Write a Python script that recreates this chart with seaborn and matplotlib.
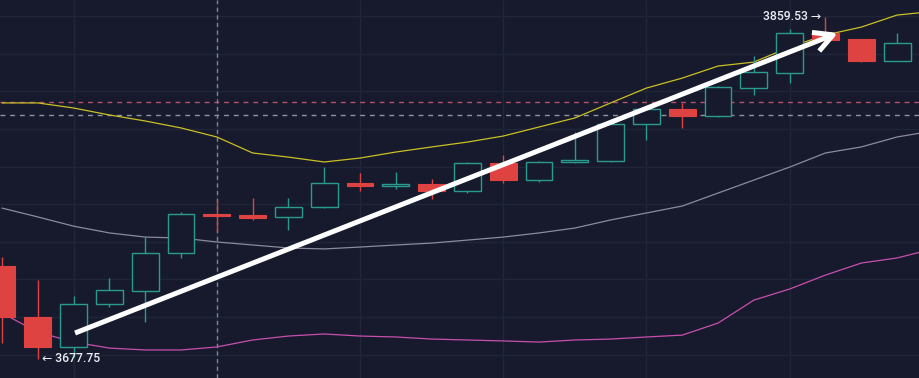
import numpy as np
import pandas as pd
import matplotlib
matplotlib.use("Agg")
import matplotlib.pyplot as plt
import seaborn as sns

# ---- data -------------------------------------------------------------
opens = [3727.1, 3700.0, 3684.1, 3706.9, 3713.8, 3734.0, 3754.8, 3754.2, 3753.2, 3758.5,
         3771.2, 3769.6, 3770.7, 3766.9, 3781.9, 3772.8, 3782.4, 3782.9, 3802.6, 3810.6,
         3806.8, 3821.7, 3829.7, 3851.0, 3847.8, 3836.1]
highs = [3731.9, 3719.7, 3711.2, 3720.7, 3742.5, 3755.9, 3762.2, 3763.3, 3763.3, 3779.7,
         3776.5, 3777.1, 3773.4, 3782.4, 3786.1, 3782.9, 3798.3, 3805.2, 3811.1, 3813.5,
         3822.8, 3838.7, 3853.1, 3859.53, 3847.8, 3851.0]
lows = [3686.2, 3677.75, 3678.7, 3705.3, 3697.4, 3731.4, 3745.2, 3751.6, 3746.3, 3757.9,
        3766.9, 3768.0, 3762.7, 3765.9, 3771.2, 3771.8, 3781.9, 3782.4, 3794.1, 3800.5,
        3806.3, 3818.0, 3824.4, 3847.2, 3835.5, 3836.1]
closes = [3700.0, 3684.1, 3706.9, 3714.4, 3734.0, 3754.8, 3753.7, 3752.6, 3758.5, 3771.2,
          3769.6, 3770.7, 3766.9, 3781.9, 3772.8, 3782.4, 3783.5, 3802.6, 3810.6, 3806.8,
          3822.3, 3830.2, 3851.0, 3847.2, 3836.1, 3845.6]

upper_band = [3813.8, 3813.8, 3811.1, 3807.4, 3804.2, 3800.5, 3795.7, 3787.2, 3785.0, 3782.4,
              3784.5, 3787.7, 3790.4, 3793.0, 3796.2, 3801.0, 3805.8, 3813.8, 3821.7, 3827.0,
              3833.4, 3835.5, 3843.5, 3849.9, 3854.1, 3860.5, 3862.4]
middle_band = [3757.9, 3753.2, 3748.3, 3744.7, 3742.5, 3742.0, 3739.9, 3738.3, 3736.7, 3736.2,
               3737.2, 3738.3, 3739.3, 3740.9, 3742.5, 3744.7, 3747.3, 3751.6, 3755.3, 3759.0,
               3765.9, 3772.8, 3779.7, 3787.2, 3790.4, 3795.7, 3798.9]
lower_band = [3702.1, 3692.0, 3686.7, 3683.5, 3682.5, 3682.5, 3684.1, 3687.8, 3689.9, 3691.0,
              3689.9, 3689.4, 3688.3, 3687.8, 3687.3, 3686.7, 3687.8, 3688.3, 3689.4, 3690.4,
              3696.8, 3709.0, 3714.9, 3722.3, 3728.7, 3731.4, 3736.2]

level_red = 3814.3
level_white = 3807.4
crosshair_idx = 6
arrow_start = (2.04, 3691.5)
arrow_end = (23.35, 3851.0)
high_label = "3859.53 →"
low_label = "← 3677.75"
high_idx, low_idx = 23, 1

# ---- style ------------------------------------------------------------
BG = "#161a2c"
GRID = "#20253a"
RED = "#de4342"
GREEN = "#2a9a8e"

sns.set_theme(style="dark", rc={"axes.facecolor": BG, "figure.facecolor": BG})
plt.rcParams["font.family"] = ["Roboto", "DejaVu Sans"]

fig = plt.figure(figsize=(9.2, 3.78), dpi=100)
ax = fig.add_axes([0, 0, 1, 1])
ax.set_facecolor(BG)

# grid
ax.set_xticks(np.arange(2, 26, 4))
ax.set_yticks(np.arange(3680, 3870, 20))
ax.grid(True, color=GRID, lw=1.0)
ax.tick_params(left=False, bottom=False, labelleft=False, labelbottom=False)
for s in ax.spines.values():
    s.set_visible(False)

# bands
bands = pd.DataFrame({
    "idx": np.arange(len(upper_band)),
    "upper": upper_band, "middle": middle_band, "lower": lower_band,
})
sns.lineplot(data=bands, x="idx", y="upper", ax=ax, color="#cbbf24", lw=0.9, zorder=3)
sns.lineplot(data=bands, x="idx", y="middle", ax=ax, color="#8a8c9c", lw=0.9, zorder=3)
sns.lineplot(data=bands, x="idx", y="lower", ax=ax, color="#c84fae", lw=0.9, zorder=3)

# horizontal levels and crosshair
ax.axhline(level_red, color="#b9516c", lw=1.0, ls=(0, (3.5, 3.5)), zorder=2)
ax.axhline(level_white, color="#8e93a6", lw=1.0, ls=(0, (3.5, 3.5)), zorder=2)
ax.axvline(crosshair_idx, color="#7f8496", lw=1.0, ls=(0, (3.0, 2.5)), zorder=2)

# candles
o = np.array(opens); c = np.array(closes); h = np.array(highs); l = np.array(lows)
x = np.arange(len(o))
up = c >= o
top = np.maximum(o, c); bot = np.minimum(o, c)
ax.vlines(x[~up], l[~up], h[~up], color=RED, lw=1.0, zorder=4)
ax.vlines(x[up], top[up], h[up], color=GREEN, lw=1.0, zorder=4)
ax.vlines(x[up], l[up], bot[up], color=GREEN, lw=1.0, zorder=4)
ax.bar(x[~up], (top - bot)[~up], bottom=bot[~up], width=0.75, color=RED,
       edgecolor=RED, lw=0.8, zorder=5)
ax.bar(x[up], (top - bot)[up], bottom=bot[up], width=0.75, color=BG,
       edgecolor=GREEN, lw=1.0, zorder=5)

# arrow
ax.annotate("", xy=arrow_end, xytext=arrow_start,
            arrowprops=dict(arrowstyle="->,head_length=0.75,head_width=0.4",
                            color="white", lw=3.6, mutation_scale=18,
                            shrinkA=0, shrinkB=0, capstyle="butt"),
            zorder=8)

# labels
ax.annotate(high_label, xy=(high_idx, highs[high_idx]), xytext=(-3, 0),
            textcoords="offset points", ha="right", va="center",
            color="#eceef4", fontsize=8.8, fontweight="medium", zorder=9)
ax.annotate(low_label, xy=(low_idx, lows[low_idx]), xytext=(3, 0),
            textcoords="offset points", ha="left", va="center",
            color="#eceef4", fontsize=8.8, fontweight="medium", zorder=9)

ax.set_xlim(-0.056, 25.64)
ax.set_ylim(3667.6, 3868.5)
ax.set_xlabel(""); ax.set_ylabel("")

fig.savefig("out.png", dpi=100, facecolor=BG)
